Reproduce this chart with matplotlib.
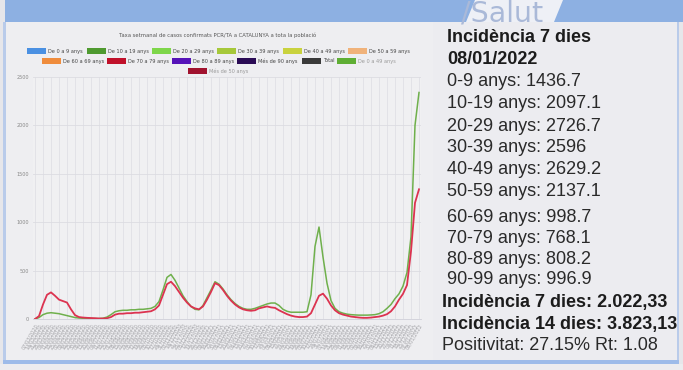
import matplotlib
matplotlib.use("Agg")
import matplotlib.pyplot as plt
from matplotlib.patches import Rectangle, Polygon
import pandas as pd

# ---------------- data ----------------
dates = pd.date_range(end="2022-01-08", periods=97, freq="7D")
date_labels = [d.strftime("%d/%m/%Y") for d in dates]

green_0_49 = [0, 15, 45, 60, 65, 60, 55, 45, 35, 25,
              15, 10, 8, 6, 5, 5, 5, 8, 20, 45,
              75, 85, 90, 90, 95, 95, 100, 100, 105, 110,
              130, 180, 300, 430, 460, 400, 320, 240, 180, 130,
              100, 95, 140, 220, 300, 385, 360, 310, 250, 200,
              160, 130, 110, 100, 100, 110, 125, 140, 155, 165,
              165, 140, 100, 80, 70, 70, 70, 70, 75, 250,
              750, 950, 640, 370, 190, 110, 75, 60, 50, 45,
              42, 40, 40, 40, 42, 45, 55, 75, 110, 150,
              210, 260, 340, 480, 850, 2000, 2340]

red_50_plus = [0, 30, 150, 250, 275, 240, 200, 185, 170, 100,
               40, 20, 15, 12, 10, 8, 5, 5, 8, 20,
               45, 55, 55, 60, 60, 65, 65, 70, 75, 80,
               100, 140, 250, 360, 385, 340, 280, 220, 170, 130,
               110, 100, 130, 200, 280, 370, 350, 300, 240, 190,
               150, 120, 100, 90, 85, 90, 110, 120, 130, 120,
               115, 90, 70, 50, 35, 25, 20, 20, 25, 60,
               150, 240, 262, 210, 140, 90, 60, 45, 35, 25,
               20, 15, 12, 12, 15, 20, 25, 35, 50, 80,
               130, 200, 260, 350, 700, 1200, 1340]

y_ticks = [0, 500, 1000, 1500, 2000, 2500]

chart_title = "Taxa setmanal de casos confirmats PCR/TA a CATALUNYA a tota la població"

legend_labels = ["De 0 a 9 anys", "De 10 a 19 anys", "De 20 a 29 anys", "De 30 a 39 anys",
                 "De 40 a 49 anys", "De 50 a 59 anys", "De 60 a 69 anys", "De 70 a 79 anys",
                 "De 80 a 89 anys", "Més de 90 anys", "Total", "De 0 a 49 anys", "Més de 50 anys"]
legend_colors = ["#4a90e2", "#4f9a30", "#7ed64a", "#a6c83a", "#c9d23e", "#f0b27a",
                 "#ef8c3c", "#c0102a", "#5512b8", "#2a0b55", "#3a3a3a", "#5fae34", "#a0122e"]
legend_visible = [False] * 11 + [True, True]

side_lines = [
    ("Incidència 7 dies", True),
    ("08/01/2022", True),
    ("0-9 anys: 1436.7", False),
    ("10-19 anys: 2097.1", False),
    ("20-29 anys: 2726.7", False),
    ("30-39 anys: 2596", False),
    ("40-49 anys: 2629.2", False),
    ("50-59 anys: 2137.1", False),
    ("60-69 anys: 998.7", False),
    ("70-79 anys: 768.1", False),
    ("80-89 anys: 808.2", False),
    ("90-99 anys: 996.9", False),
    ("Incidència 7 dies: 2.022,33", True),
    ("Incidència 14 dies: 3.823,13", True),
    ("Positivitat: 27.15% Rt: 1.08", False),
]

# ---------------- layout ----------------
W, H = 683, 370
fig = plt.figure(figsize=(W / 100, H / 100), dpi=100)
fig.patch.set_facecolor("#e6e6ea")


def fx(x):
    return x / W


def fy(y):
    return 1 - y / H


def frect(x0, y0, x1, y1, **kw):
    fig.patches.append(Rectangle((fx(x0), fy(y1)), (x1 - x0) / W, (y1 - y0) / H,
                                 transform=fig.transFigure, zorder=-5, **kw))


BLUE = "#8db0e2"
# panels
frect(5, 22, 433, 361, facecolor="#eeeef1", edgecolor="none")
frect(433, 22, 678, 361, facecolor="#ececf0", edgecolor="none")
frect(3, 22, 5.5, 362, facecolor="#b9cbea", edgecolor="none")
frect(676.5, 22, 679, 362, facecolor="#b9cbea", edgecolor="none")
frect(3, 360, 679, 364, facecolor="#9dbbe9", edgecolor="none")
frect(0, 364, 683, 370, facecolor="#ececef", edgecolor="none")
# top band
frect(5, 0, 683, 22, facecolor=BLUE, edgecolor="none")
frect(0, 0, 5, 22, facecolor="#e6e6ea", edgecolor="none")
poly = Polygon([(fx(475), fy(0)), (fx(563), fy(0)), (fx(554), fy(22)), (fx(466), fy(22))],
               closed=True, transform=fig.transFigure, facecolor="#eef0f6", edgecolor="none",
               zorder=-4)
fig.patches.append(poly)
fig.text(fx(461), fy(21.5), "/Salut", fontsize=20.5, color="#aab9d8", ha="left",
         va="baseline", family="DejaVu Sans")

# side text
side_y = [38, 60, 82, 104, 126, 148, 170, 191.5, 217, 238.5, 260, 280, 302, 324, 345]
for (txt, bold), y in zip(side_lines, side_y):
    x = 442 if txt.startswith(("Incidència 7 dies:", "Incidència 14", "Positivitat")) else 447
    fig.text(fx(x), fy(y), txt, fontsize=13, fontweight="bold" if bold else "normal",
             color="#1c1c1c" if bold else "#2a2a2a", ha="left", va="center",
             family="Liberation Sans")

# chart title
fig.text(fx(218), fy(35), chart_title, fontsize=3.8, color="#555555", ha="center", va="center")

# legend (manual, Highcharts style)
legend_x = [27, 87, 152, 217, 283, 348, 42, 107, 172, 237, 302, 337, 188]
legend_row = [51, 51, 51, 51, 51, 51, 61, 61, 61, 61, 61, 61, 71]
for lab, col, vis, lx, ly in zip(legend_labels, legend_colors, legend_visible, legend_x, legend_row):
    frect(lx, ly - 3, lx + 19, ly + 3, facecolor=col, edgecolor="none")
    fig.text(fx(lx + 21), fy(ly), lab, fontsize=3.6,
             color="#999999" if vis else "#444444", ha="left", va="center")

# axes
ax = fig.add_axes([fx(33), fy(319), (421 - 33) / W, (319 - 77) / H])
ax.set_zorder(5)
ax.set_facecolor("#f0f0f2")
x = list(range(len(date_labels)))
for i in range(0, len(x), 2):
    ax.axvline(i, color="#e0e0e5", lw=0.6, zorder=0)
ax.plot(x, green_0_49, color="#6fb04c", lw=1.1, zorder=3)
ax.plot(x, red_50_plus, color="#dc3350", lw=1.3, zorder=4)
ax.set_ylim(0, 2500)
ax.set_xlim(-0.5, len(x) - 0.5)
ax.set_yticks(y_ticks)
ax.set_yticklabels([str(v) for v in y_ticks], fontsize=3.5, color="#888888")
ax.yaxis.grid(True, color="#dcdce2", lw=0.6)
ax.set_axisbelow(True)
ax.set_xticks(x)
ax.set_xticklabels(date_labels, rotation=60, ha="right", rotation_mode="anchor",
                   fontsize=3.6, color="#a4a4a8")
ax.tick_params(axis="x", length=0, pad=2.5)
ax.tick_params(axis="y", length=0, pad=3)
for s in ["top", "right", "left"]:
    ax.spines[s].set_visible(False)
ax.spines["bottom"].set_color("#d0d0d8")
ax.spines["bottom"].set_linewidth(0.6)

fig.savefig("out.png", dpi=100, facecolor=fig.get_facecolor())
